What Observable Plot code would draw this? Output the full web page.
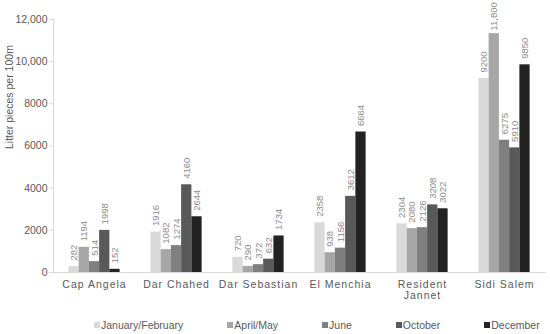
<!DOCTYPE html>
<html>
<head>
<meta charset="utf-8">
<script src="https://cdn.jsdelivr.net/npm/d3@7"></script>
<script src="https://cdn.jsdelivr.net/npm/@observablehq/plot@0.6"></script>
<style>
  html, body { margin: 0; padding: 0; background: #fff; }
  #chart { width: 550px; }
  .sitelab text { letter-spacing: 1px; }
  .legend { display: flex; align-items: center; column-gap: 44px; padding-left: 94px; margin-top: 12px; height: 14px;
            font-family: 'Liberation Sans', Arial, sans-serif; font-size: 10.5px; color: #595959; }
  .legend .item { display: flex; align-items: center; white-space: nowrap; }
  .legend .sw { width: 6px; height: 6px; margin-right: 1px; display: inline-block; }
</style>
</head>
<body>
<div id="chart"></div>
<script>
// ---- data ----
const sites = ["Cap Angela", "Dar Chahed", "Dar Sebastian", "El Menchia", "Resident Jannet", "Sidi Salem"];
const siteLabels = ["Cap Angela", "Dar Chahed", "Dar Sebastian", "El Menchia", "Resident\nJannet", "Sidi Salem"];
const periods = ["January/February", "April/May", "June", "October", "December"];
const janFeb   = [282, 1916, 720, 2358, 2304, 9200];
const aprMay   = [1194, 1082, 290, 938, 2080, 11330];   // bar heights as drawn
const june     = [514, 1274, 372, 1156, 2126, 6275];
const october  = [1998, 4160, 632, 3612, 3208, 5910];
const december = [152, 2644, 1734, 6664, 3022, 9850];
// printed value labels (as shown on the chart)
const janFebLabels   = ["282", "1916", "720", "2358", "2304", "9200"];
const aprMayLabels   = ["1194", "1082", "290", "938", "2080", "11,800"];
const juneLabels     = ["514", "1274", "372", "1156", "2126", "6275"];
const octoberLabels  = ["1998", "4160", "632", "3612", "3208", "5910"];
const decemberLabels = ["152", "2644", "1734", "6664", "3022", "9850"];
const yTicks = [0, 2000, 4000, 6000, 8000, 10000, 12000];
const colors = ["#d9d9d9", "#a6a6a6", "#7f7f7f", "#595959", "#222222"];

// ---- build table ----
const series = [janFeb, aprMay, june, october, december];
const seriesLabels = [janFebLabels, aprMayLabels, juneLabels, octoberLabels, decemberLabels];
const key = (s, p) => s + "|" + p;
const rows = [];
sites.forEach((s, i) => periods.forEach((p, j) => rows.push({site: s, period: p, key: key(s, p), value: series[j][i], label: seriesLabels[j][i]})));
const domain = [];
sites.forEach((s, i) => {
  periods.forEach(p => domain.push(key(s, p)));
  if (i < sites.length - 1) for (let g = 0; g < 3; g++) domain.push("gap" + i + "-" + g);
});
const siteRows = sites.map((s, i) => ({site: s, label: siteLabels[i]}));
const fmt = v => v >= 10000 ? d3.format(",")(v) : String(v);
const tall = d => d.value > 11000;

const chart = Plot.plot({
  width: 550,
  height: 306,
  marginLeft: 53,
  marginRight: 5,
  marginTop: 19,
  marginBottom: 34,
  style: {fontFamily: "'Liberation Sans', Arial, sans-serif", fontSize: "10.5px", color: "#595959", background: "white"},
  x: {type: "band", domain, paddingInner: 0, paddingOuter: 1.5, round: false, axis: null},
  y: {domain: [0, 12000]},
  color: {domain: periods, range: colors},
  marks: [
    Plot.barY(rows, {x: "key", y: "value", fill: "period"}),
    Plot.frame({anchor: "left", stroke: "#d9d9d9"}),
    Plot.frame({anchor: "bottom", stroke: "#d9d9d9"}),
    Plot.axisY({ticks: yTicks, tickFormat: fmt, tickSize: 4, tickPadding: 2, stroke: "#d9d9d9", fill: "#595959", label: null}),
    Plot.text(rows.filter(d => !tall(d)), {x: "key", y: "value", text: "label", rotate: -90, textAnchor: "start", lineAnchor: "middle", dy: -6, fill: "#8c8c8c", fontSize: 9.5}),
    Plot.text(rows.filter(tall), {x: "key", y: "value", text: "label", rotate: -90, textAnchor: "start", lineAnchor: "middle", dy: -3, fill: "#8c8c8c", fontSize: 9.5}),
    Plot.text(siteRows, {x: d => key(d.site, "June"), frameAnchor: "bottom", text: "label", lineAnchor: "top", dy: 8.5, lineHeight: 1, fill: "#595959", fontSize: 10.5, className: "sitelab"}),
    Plot.text(["Litter pieces per 100m"], {text: d => d, frameAnchor: "left", dx: -44, dy: 3, rotate: -90, fill: "#595959", fontSize: 10.5})
  ]
});
document.getElementById("chart").appendChild(chart);

// legend
const legend = document.createElement("div");
legend.className = "legend";
periods.forEach((p, i) => {
  const item = document.createElement("span");
  item.className = "item";
  const sw = document.createElement("span");
  sw.className = "sw";
  sw.style.background = colors[i];
  item.appendChild(sw);
  item.appendChild(document.createTextNode(p));
  legend.appendChild(item);
});
document.getElementById("chart").appendChild(legend);
</script>
</body>
</html>
